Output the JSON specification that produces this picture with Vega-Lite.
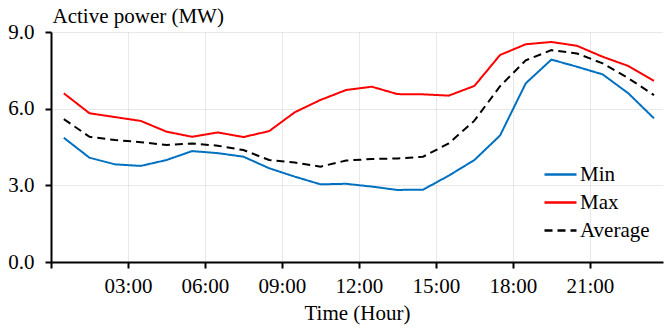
{
  "$schema": "https://vega.github.io/schema/vega-lite/v6.json",
  "width": 612,
  "height": 230,
  "autosize": {"type": "none"},
  "padding": {"left": 51, "top": 32, "right": 1, "bottom": 71},
  "background": "white",
  "config": {
    "font": "Liberation Serif",
    "view": {"stroke": null},
    "axis": {
      "labelFont": "Liberation Serif",
      "titleFont": "Liberation Serif",
      "labelFontSize": 21,
      "titleFontSize": 21,
      "labelColor": "black",
      "titleColor": "black",
      "titleFontWeight": "normal",
      "domainColor": "black",
      "domainWidth": 2,
      "tickColor": "black",
      "tickWidth": 2,
      "tickSize": 6,
      "gridColor": "#d0d0d0",
      "gridDash": [1, 1],
      "gridWidth": 1
    },
    "legend": {
      "labelFont": "Liberation Serif",
      "labelFontSize": 21,
      "labelColor": "black"
    }
  },
  "data": {
    "values": [
      {"hour": 0.5, "series": "Min", "value": 4.86},
      {"hour": 1.5, "series": "Min", "value": 4.08},
      {"hour": 2.5, "series": "Min", "value": 3.82},
      {"hour": 3.5, "series": "Min", "value": 3.76},
      {"hour": 4.5, "series": "Min", "value": 3.99},
      {"hour": 5.5, "series": "Min", "value": 4.34},
      {"hour": 6.5, "series": "Min", "value": 4.26},
      {"hour": 7.5, "series": "Min", "value": 4.12},
      {"hour": 8.5, "series": "Min", "value": 3.67},
      {"hour": 9.5, "series": "Min", "value": 3.34},
      {"hour": 10.5, "series": "Min", "value": 3.04},
      {"hour": 11.5, "series": "Min", "value": 3.06},
      {"hour": 12.5, "series": "Min", "value": 2.95},
      {"hour": 13.5, "series": "Min", "value": 2.82},
      {"hour": 14.5, "series": "Min", "value": 2.83},
      {"hour": 15.5, "series": "Min", "value": 3.38},
      {"hour": 16.5, "series": "Min", "value": 3.99},
      {"hour": 17.5, "series": "Min", "value": 4.95},
      {"hour": 18.5, "series": "Min", "value": 6.99},
      {"hour": 19.5, "series": "Min", "value": 7.92},
      {"hour": 20.5, "series": "Min", "value": 7.64},
      {"hour": 21.5, "series": "Min", "value": 7.34},
      {"hour": 22.5, "series": "Min", "value": 6.60},
      {"hour": 23.5, "series": "Min", "value": 5.62},
      {"hour": 0.5, "series": "Max", "value": 6.60},
      {"hour": 1.5, "series": "Max", "value": 5.82},
      {"hour": 2.5, "series": "Max", "value": 5.67},
      {"hour": 3.5, "series": "Max", "value": 5.52},
      {"hour": 4.5, "series": "Max", "value": 5.10},
      {"hour": 5.5, "series": "Max", "value": 4.90},
      {"hour": 6.5, "series": "Max", "value": 5.07},
      {"hour": 7.5, "series": "Max", "value": 4.89},
      {"hour": 8.5, "series": "Max", "value": 5.12},
      {"hour": 9.5, "series": "Max", "value": 5.86},
      {"hour": 10.5, "series": "Max", "value": 6.34},
      {"hour": 11.5, "series": "Max", "value": 6.73},
      {"hour": 12.5, "series": "Max", "value": 6.86},
      {"hour": 13.5, "series": "Max", "value": 6.57},
      {"hour": 14.5, "series": "Max", "value": 6.56},
      {"hour": 15.5, "series": "Max", "value": 6.51},
      {"hour": 16.5, "series": "Max", "value": 6.89},
      {"hour": 17.5, "series": "Max", "value": 8.10},
      {"hour": 18.5, "series": "Max", "value": 8.52},
      {"hour": 19.5, "series": "Max", "value": 8.61},
      {"hour": 20.5, "series": "Max", "value": 8.46},
      {"hour": 21.5, "series": "Max", "value": 8.03},
      {"hour": 22.5, "series": "Max", "value": 7.67},
      {"hour": 23.5, "series": "Max", "value": 7.09},
      {"hour": 0.5, "series": "Average", "value": 5.59},
      {"hour": 1.5, "series": "Average", "value": 4.90},
      {"hour": 2.5, "series": "Average", "value": 4.77},
      {"hour": 3.5, "series": "Average", "value": 4.69},
      {"hour": 4.5, "series": "Average", "value": 4.58},
      {"hour": 5.5, "series": "Average", "value": 4.64},
      {"hour": 6.5, "series": "Average", "value": 4.55},
      {"hour": 7.5, "series": "Average", "value": 4.38},
      {"hour": 8.5, "series": "Average", "value": 3.99},
      {"hour": 9.5, "series": "Average", "value": 3.89},
      {"hour": 10.5, "series": "Average", "value": 3.73},
      {"hour": 11.5, "series": "Average", "value": 3.97},
      {"hour": 12.5, "series": "Average", "value": 4.03},
      {"hour": 13.5, "series": "Average", "value": 4.05},
      {"hour": 14.5, "series": "Average", "value": 4.12},
      {"hour": 15.5, "series": "Average", "value": 4.64},
      {"hour": 16.5, "series": "Average", "value": 5.53},
      {"hour": 17.5, "series": "Average", "value": 6.88},
      {"hour": 18.5, "series": "Average", "value": 7.89},
      {"hour": 19.5, "series": "Average", "value": 8.29},
      {"hour": 20.5, "series": "Average", "value": 8.16},
      {"hour": 21.5, "series": "Average", "value": 7.77},
      {"hour": 22.5, "series": "Average", "value": 7.19},
      {"hour": 23.5, "series": "Average", "value": 6.53}
    ]
  },
  "mark": {"type": "line", "strokeWidth": 2},
  "encoding": {
    "x": {
      "field": "hour",
      "type": "quantitative",
      "scale": {"domain": [0, 23.85], "nice": false, "zero": false},
      "axis": {
        "title": "Time (Hour)",
        "values": [0, 3, 6, 9, 12, 15, 18, 21],
        "labelExpr": "datum.value == 0 ? '' : (datum.value < 10 ? '0' : '') + datum.value + ':00'",
        "labelFont": "Liberation Serif",
        "labelFontSize": 21,
        "labelPadding": 7,
        "titlePadding": 6,
        "labelFlush": false,
        "labelOverlap": false
      }
    },
    "y": {
      "field": "value",
      "type": "quantitative",
      "scale": {"domain": [0, 9], "nice": false},
      "axis": {
        "title": "Active power (MW)",
        "values": [0, 3, 6, 9],
        "format": ".1f",
        "labelFont": "Liberation Serif",
        "labelFontSize": 21,
        "labelPadding": 11,
        "titleAngle": 0,
        "titleAlign": "left",
        "titleBaseline": "alphabetic",
        "titleX": 1,
        "titleY": -10
      }
    },
    "color": {
      "field": "series",
      "type": "nominal",
      "scale": {"domain": ["Min", "Max", "Average"], "range": ["#0070C0", "#FF0000", "#000000"]},
      "legend": {
        "title": null,
        "orient": "none",
        "legendX": 492,
        "legendY": 125,
        "symbolType": "stroke",
        "symbolSize": 1024,
        "symbolStrokeWidth": 2.5,
        "labelFont": "Liberation Serif",
        "labelFontSize": 21,
        "labelOffset": 2,
        "rowPadding": 0
      }
    },
    "strokeDash": {
      "field": "series",
      "type": "nominal",
      "scale": {"domain": ["Min", "Max", "Average"], "range": [[1, 0], [1, 0], [8, 5]]},
      "legend": {
        "title": null,
        "orient": "none",
        "legendX": 492,
        "legendY": 125,
        "symbolType": "stroke",
        "symbolSize": 1024,
        "symbolStrokeWidth": 2.5,
        "labelFont": "Liberation Serif",
        "labelFontSize": 21,
        "labelOffset": 2,
        "rowPadding": 0
      }
    }
  }
}
